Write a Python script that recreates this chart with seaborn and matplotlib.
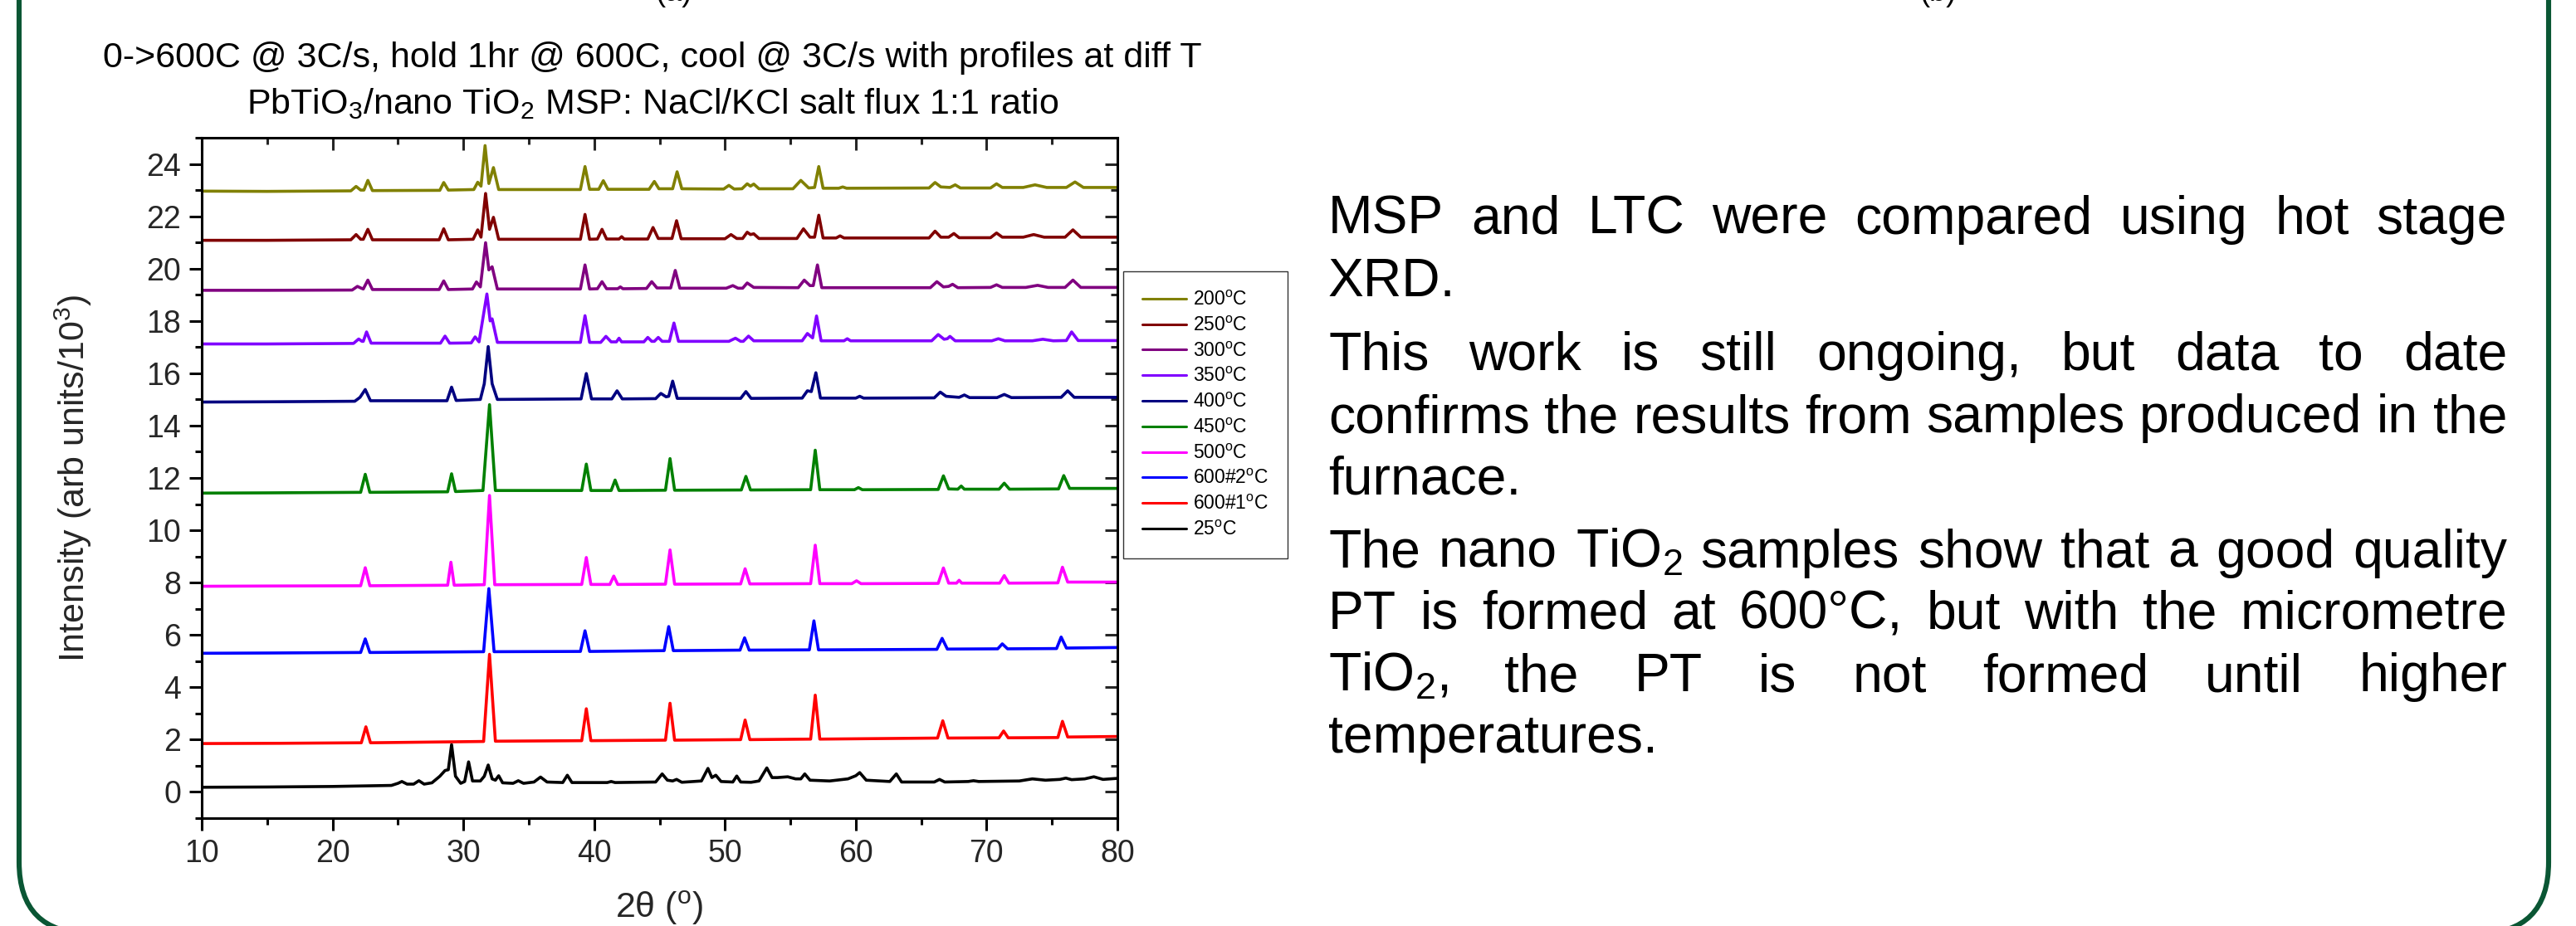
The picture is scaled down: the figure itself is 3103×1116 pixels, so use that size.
import matplotlib
matplotlib.use("Agg")
import numpy as np
import pandas as pd
import matplotlib.pyplot as plt
import seaborn as sns
from matplotlib.lines import Line2D
from matplotlib.patches import FancyBboxPatch
from matplotlib.ticker import MultipleLocator

# ---------------- data (2theta, intensity / 10^3) ----------------
s200 = [(10, 22.96), (15, 22.95), (21.4, 22.97), (21.8, 23.14), (22.15, 23.0), (22.4, 23.0), (22.7, 23.37),
        (23.05, 22.98), (28.2, 22.99), (28.5, 23.29), (28.85, 23.0), (30.8, 23.02), (31.1, 23.3), (31.35, 23.15),
        (31.66, 24.7), (31.95, 23.25), (32.3, 23.86), (32.7, 23.02), (38.95, 23.02), (39.3, 23.9), (39.65, 23.03),
        (40.35, 23.03), (40.7, 23.36), (41.05, 23.03), (44.2, 23.03), (44.6, 23.33), (44.95, 23.05), (46.0, 23.05),
        (46.34, 23.7), (46.7, 23.05), (49.9, 23.04), (50.3, 23.18), (50.7, 23.04), (51.3, 23.05), (51.7, 23.24),
        (51.95, 23.15), (52.2, 23.23), (52.6, 23.05), (55.2, 23.05), (55.8, 23.37), (56.4, 23.08), (56.85, 23.1),
        (57.17, 23.9), (57.5, 23.07), (58.7, 23.07), (59.0, 23.12), (59.3, 23.07), (65.6, 23.08), (66.06, 23.29),
        (66.5, 23.12), (67.2, 23.1), (67.6, 23.2), (68.0, 23.08), (70.3, 23.08), (70.76, 23.24), (71.2, 23.1),
        (72.8, 23.1), (73.7, 23.2), (74.6, 23.1), (76.1, 23.1), (76.76, 23.31), (77.4, 23.1), (80, 23.1)]

s250 = [(10, 21.08), (15, 21.08), (21.4, 21.1), (21.8, 21.3), (22.15, 21.12), (22.35, 21.12), (22.7, 21.5),
        (23.05, 21.1), (28.15, 21.1), (28.5, 21.52), (28.85, 21.1), (30.75, 21.12), (31.1, 21.48), (31.35, 21.2),
        (31.7, 22.87), (32.0, 21.5), (32.3, 21.96), (32.7, 21.12), (38.95, 21.12), (39.3, 22.07), (39.65, 21.12),
        (40.25, 21.13), (40.6, 21.5), (40.95, 21.13), (41.9, 21.13), (42.1, 21.22), (42.3, 21.13), (44.1, 21.13),
        (44.5, 21.57), (44.9, 21.15), (45.95, 21.15), (46.3, 21.83), (46.65, 21.14), (50.0, 21.14), (50.46, 21.3),
        (50.9, 21.15), (51.35, 21.15), (51.7, 21.39), (51.95, 21.3), (52.2, 21.33), (52.6, 21.15), (55.5, 21.15),
        (56.0, 21.52), (56.5, 21.2), (56.85, 21.2), (57.17, 22.04), (57.5, 21.17), (58.5, 21.17), (58.8, 21.25),
        (59.1, 21.17), (65.6, 21.17), (66.06, 21.43), (66.5, 21.2), (67.1, 21.2), (67.5, 21.34), (67.9, 21.18),
        (70.3, 21.18), (70.76, 21.36), (71.2, 21.2), (72.8, 21.2), (73.6, 21.3), (74.4, 21.2), (76.0, 21.2),
        (76.6, 21.48), (77.2, 21.2), (80, 21.2)]

s300 = [(10, 19.17), (15, 19.17), (21.5, 19.18), (21.9, 19.32), (22.2, 19.25), (22.35, 19.22), (22.7, 19.56),
        (23.05, 19.2), (28.15, 19.2), (28.5, 19.53), (28.85, 19.2), (30.7, 19.22), (31.0, 19.49), (31.3, 19.3),
        (31.7, 20.99), (31.95, 19.95), (32.2, 20.07), (32.6, 19.22), (38.95, 19.22), (39.3, 20.14), (39.65, 19.22),
        (40.25, 19.23), (40.6, 19.5), (40.95, 19.23), (41.8, 19.23), (42.0, 19.3), (42.2, 19.23), (44.0, 19.24),
        (44.4, 19.5), (44.8, 19.26), (45.85, 19.26), (46.2, 19.93), (46.55, 19.25), (50.1, 19.25), (50.6, 19.35),
        (51.0, 19.25), (51.35, 19.25), (51.7, 19.45), (52.2, 19.28), (55.6, 19.27), (56.06, 19.56), (56.5, 19.35),
        (56.75, 19.35), (57.07, 20.14), (57.4, 19.27), (65.7, 19.27), (66.2, 19.5), (66.7, 19.3), (67.1, 19.32),
        (67.4, 19.4), (67.8, 19.27), (70.3, 19.28), (70.76, 19.38), (71.2, 19.28), (73.0, 19.28), (73.9, 19.36),
        (74.7, 19.28), (76.0, 19.28), (76.6, 19.56), (77.2, 19.28), (80, 19.28)]

s350 = [(10, 17.12), (15, 17.12), (21.6, 17.14), (22.0, 17.31), (22.25, 17.22), (22.35, 17.22), (22.6, 17.58),
        (22.95, 17.15), (28.25, 17.15), (28.6, 17.42), (28.95, 17.15), (30.6, 17.16), (30.9, 17.39), (31.2, 17.2),
        (31.8, 19.03), (32.05, 18.0), (32.2, 18.08), (32.6, 17.18), (38.95, 17.18), (39.3, 18.2), (39.65, 17.18),
        (40.5, 17.18), (40.9, 17.41), (41.3, 17.2), (41.7, 17.2), (41.9, 17.34), (42.1, 17.2), (43.8, 17.2),
        (44.1, 17.37), (44.4, 17.22), (44.6, 17.22), (44.9, 17.37), (45.2, 17.22), (45.75, 17.22), (46.1, 17.92),
        (46.45, 17.22), (50.3, 17.22), (50.8, 17.34), (51.2, 17.22), (51.4, 17.22), (51.8, 17.42), (52.2, 17.24),
        (55.9, 17.24), (56.3, 17.52), (56.7, 17.35), (57.0, 18.19), (57.35, 17.24), (59.1, 17.24), (59.35, 17.32),
        (59.6, 17.24), (65.8, 17.24), (66.3, 17.48), (66.75, 17.3), (67.0, 17.32), (67.2, 17.41), (67.6, 17.24),
        (70.4, 17.24), (70.9, 17.32), (71.4, 17.24), (73.5, 17.24), (74.3, 17.3), (75.1, 17.24), (76.1, 17.25),
        (76.5, 17.58), (77.0, 17.25), (80, 17.25)]

s400 = [(10, 14.9), (15, 14.91), (21.7, 14.93), (22.1, 15.08), (22.5, 15.38), (22.9, 14.95), (28.75, 14.95),
        (29.1, 15.47), (29.45, 14.96), (31.3, 15.0), (31.6, 15.6), (31.9, 17.02), (32.2, 15.6), (32.6, 15.0),
        (39.0, 15.02), (39.4, 15.99), (39.8, 15.02), (41.35, 15.02), (41.75, 15.33), (42.15, 15.02), (44.7, 15.03),
        (45.1, 15.23), (45.5, 15.1), (45.7, 15.12), (46.0, 15.7), (46.35, 15.04), (51.2, 15.04), (51.6, 15.3),
        (52.0, 15.04), (55.9, 15.05), (56.3, 15.33), (56.6, 15.3), (56.95, 16.02), (57.3, 15.05), (60.0, 15.05),
        (60.3, 15.12), (60.6, 15.05), (66.0, 15.06), (66.46, 15.28), (66.9, 15.12), (67.9, 15.08), (68.3, 15.17),
        (68.7, 15.07), (70.8, 15.07), (71.35, 15.19), (71.9, 15.07), (75.7, 15.08), (76.2, 15.33), (76.7, 15.08),
        (80, 15.08)]

s450 = [(10, 11.42), (15, 11.43), (22.15, 11.45), (22.5, 12.14), (22.85, 11.45), (28.8, 11.47), (29.1, 12.16),
        (29.4, 11.48), (31.5, 11.52), (32.0, 14.8), (32.45, 11.52), (39.05, 11.52), (39.4, 12.53), (39.75, 11.52),
        (41.3, 11.52), (41.6, 11.92), (41.9, 11.52), (45.45, 11.53), (45.8, 12.74), (46.15, 11.53), (51.25, 11.54),
        (51.6, 12.06), (51.95, 11.54), (56.55, 11.55), (56.9, 13.06), (57.25, 11.55), (59.9, 11.55), (60.2, 11.63),
        (60.5, 11.55), (66.3, 11.56), (66.7, 12.08), (67.1, 11.58), (67.8, 11.57), (68.06, 11.69), (68.3, 11.57),
        (70.95, 11.57), (71.35, 11.8), (71.75, 11.57), (75.5, 11.58), (75.9, 12.09), (76.35, 11.6), (80, 11.6)]

s500 = [(10, 7.86), (15, 7.87), (22.15, 7.88), (22.5, 8.57), (22.85, 7.88), (28.8, 7.9), (29.05, 8.78),
        (29.3, 7.9), (31.6, 7.92), (32.0, 11.33), (32.4, 7.92), (39.05, 7.93), (39.4, 8.96), (39.75, 7.93),
        (41.2, 7.93), (41.5, 8.25), (41.8, 7.93), (45.45, 7.94), (45.8, 9.25), (46.15, 7.94), (51.2, 7.95),
        (51.54, 8.53), (51.9, 7.95), (56.55, 7.96), (56.9, 9.43), (57.25, 7.96), (59.7, 7.96), (60.06, 8.07),
        (60.4, 7.96), (66.3, 7.97), (66.7, 8.56), (67.1, 7.98), (67.7, 7.98), (67.9, 8.09), (68.1, 7.98),
        (71.0, 7.98), (71.35, 8.27), (71.7, 7.98), (75.45, 7.99), (75.8, 8.59), (76.2, 8.02), (80, 8.02)]

s600_2 = [(10, 5.3), (15, 5.31), (22.15, 5.33), (22.5, 5.85), (22.85, 5.33), (31.55, 5.36), (31.95, 7.77),
          (32.35, 5.36), (38.95, 5.37), (39.3, 6.16), (39.65, 5.37), (45.35, 5.4), (45.7, 6.32), (46.05, 5.4),
          (51.15, 5.42), (51.5, 5.89), (51.85, 5.42), (56.45, 5.43), (56.8, 6.54), (57.15, 5.43), (66.2, 5.45),
          (66.6, 5.87), (67.0, 5.46), (70.85, 5.47), (71.2, 5.66), (71.6, 5.47), (75.35, 5.48), (75.7, 5.92),
          (76.1, 5.5), (80, 5.52)]

s600_1 = [(10, 1.85), (16, 1.86), (22.2, 1.88), (22.55, 2.49), (22.9, 1.88), (31.55, 1.93), (32.0, 5.26),
          (32.45, 1.94), (39.05, 1.96), (39.4, 3.18), (39.75, 1.96), (45.45, 1.98), (45.8, 3.39), (46.15, 1.98),
          (51.2, 2.0), (51.54, 2.75), (51.9, 2.0), (56.55, 2.02), (56.9, 3.70), (57.25, 2.02), (66.25, 2.06),
          (66.65, 2.72), (67.05, 2.06), (70.95, 2.07), (71.3, 2.33), (71.65, 2.07), (75.45, 2.08), (75.8, 2.70),
          (76.2, 2.1), (80, 2.12)]

s25 = [(10, 0.18), (15, 0.19), (20, 0.21), (24.5, 0.25), (25.0, 0.33), (25.3, 0.40), (25.7, 0.30), (26.2, 0.30),
       (26.6, 0.43), (27.0, 0.30), (27.6, 0.35), (28.2, 0.60), (28.6, 0.82), (28.85, 0.85), (29.1, 1.81),
       (29.4, 0.60), (29.8, 0.33), (30.1, 0.40), (30.4, 1.15), (30.7, 0.42), (31.3, 0.42), (31.6, 0.60),
       (31.9, 1.03), (32.2, 0.50), (32.45, 0.45), (32.7, 0.62), (33.0, 0.35), (33.8, 0.33), (34.2, 0.43),
       (34.6, 0.33), (35.4, 0.38), (35.9, 0.57), (36.4, 0.38), (37.6, 0.36), (37.95, 0.64), (38.3, 0.36),
       (41.0, 0.36), (41.3, 0.40), (41.6, 0.36), (44.7, 0.38), (45.2, 0.69), (45.6, 0.45), (46.0, 0.42),
       (46.3, 0.48), (46.7, 0.37), (48.2, 0.42), (48.7, 0.90), (49.0, 0.55), (49.3, 0.64), (49.7, 0.40),
       (50.6, 0.38), (50.9, 0.61), (51.2, 0.38), (52.0, 0.37), (52.6, 0.42), (53.2, 0.92), (53.6, 0.55),
       (54.0, 0.55), (54.8, 0.58), (55.4, 0.50), (55.8, 0.50), (56.1, 0.69), (56.5, 0.45), (58.0, 0.42),
       (59.4, 0.50), (60.0, 0.62), (60.3, 0.74), (60.8, 0.45), (62.6, 0.40), (63.1, 0.69), (63.5, 0.38),
       (66.0, 0.38), (66.4, 0.48), (66.8, 0.38), (68.6, 0.40), (69.0, 0.43), (69.4, 0.40), (72.5, 0.42),
       (73.5, 0.50), (74.5, 0.45), (75.6, 0.48), (76.06, 0.53), (76.5, 0.47), (77.5, 0.50), (78.2, 0.58),
       (78.9, 0.48), (80, 0.52)]

# legend order (top to bottom)
sample_labels = ["200", "250", "300", "350", "400", "450", "500", "600#2", "600#1", "25"]
sample_data = [s200, s250, s300, s350, s400, s450, s500, s600_2, s600_1, s25]
sample_colors = ["#808000", "#800000", "#800080", "#8000FF", "#000080",
                 "#008000", "#FF00FF", "#0000FF", "#FF0000", "#000000"]

x_ticks = [10, 20, 30, 40, 50, 60, 70, 80]
y_ticks = [0, 2, 4, 6, 8, 10, 12, 14, 16, 18, 20, 22, 24]

title_lines = ["0->600C @ 3C/s, hold 1hr @ 600C, cool @ 3C/s with profiles at diff T",
               r"PbTiO$_3$/nano TiO$_2$ MSP: NaCl/KCl salt flux 1:1 ratio"]

paragraphs = [
    ["MSP and LTC were compared using hot stage", "XRD."],
    ["This work is still ongoing, but data to date",
     "confirms the results from samples produced in the", "furnace."],
    [r"The nano TiO$_2$ samples show that a good quality",
     "PT is formed at 600°C, but with the micrometre",
     r"TiO$_2$, the PT is not formed until higher", "temperatures."],
]

# cut-off panel labels of the row above (only their lower parts are visible)
top_fragments = [("(a)", 812), ("(b)", 2335)]

# ---------------- style ----------------
sns.set_style("ticks")
plt.rcParams["font.family"] = ["Liberation Sans", "DejaVu Sans"]
plt.rcParams["mathtext.fontset"] = "custom"
plt.rcParams["mathtext.rm"] = "Liberation Sans"
plt.rcParams["mathtext.it"] = "Liberation Sans:italic"
plt.rcParams["mathtext.bf"] = "Liberation Sans:bold"
plt.rcParams["text.color"] = "black"

W, H = 3103, 1116
fig = plt.figure(figsize=(W / 100, H / 100), dpi=100)
fig.patch.set_facecolor("white")

L, R, T, B = 243, 1346, 166, 986
ax = fig.add_axes([L / W, 1 - B / H, (R - L) / W, (B - T) / H])

rows = []
for lab, pts in zip(sample_labels, sample_data):
    for x, y in pts:
        rows.append((lab, x, y))
df = pd.DataFrame(rows, columns=["sample", "two_theta", "intensity"])
plot_order = sample_labels[::-1]
pal = dict(zip(sample_labels, sample_colors))
sns.lineplot(data=df, x="two_theta", y="intensity", hue="sample", hue_order=plot_order,
             palette=pal, estimator=None, sort=False, linewidth=2.6, legend=False, ax=ax)

ax.set_xlim(10, 80)
ax.set_ylim(-1, 25)
ax.set_xticks(x_ticks)
ax.set_yticks(y_ticks)
ax.xaxis.set_minor_locator(MultipleLocator(5))
ax.yaxis.set_minor_locator(MultipleLocator(1))
for sp in ax.spines.values():
    sp.set_visible(True)
    sp.set_linewidth(2.2)
    sp.set_color("black")
ax.tick_params(which="both", direction="out", top=False, right=False, width=2.2, color="black",
               labelsize=27, pad=7)
ax.tick_params(which="major", length=11)
ax.tick_params(which="minor", length=6)

secx = ax.secondary_xaxis("top")
secx.set_xticks(x_ticks)
secx.xaxis.set_minor_locator(MultipleLocator(5))
secx.tick_params(which="both", direction="in", labeltop=False, width=2.2)
secx.tick_params(which="major", length=11)
secx.tick_params(which="minor", length=6)
secx.spines["top"].set_visible(False)

secy = ax.secondary_yaxis("right")
secy.set_yticks(y_ticks)
secy.yaxis.set_minor_locator(MultipleLocator(1))
secy.tick_params(which="both", direction="in", labelright=False, width=2.2)
secy.tick_params(which="major", length=11)
secy.tick_params(which="minor", length=6)
secy.spines["right"].set_visible(False)

ax.set_xlabel(r"2θ ($^{\rm o}$)", fontsize=31)
ax.set_ylabel(r"Intensity (arb units/10$^3$)", fontsize=31)
ax.xaxis.set_label_coords(0.5, (B - 1094) / (B - T))
ax.xaxis.label.set_va("center")
ax.yaxis.set_label_coords((88 - L) / (R - L), 0.5)
ax.yaxis.label.set_va("center")

# legend
handles = [Line2D([0], [0], color=c, lw=2.2) for c in sample_colors]
labels = [s + r"$^{\rm o}$C" for s in sample_labels]
leg = fig.legend(handles, labels, loc="upper left", bbox_to_anchor=(1353 / W, 1 - 327 / H),
                 frameon=True, fancybox=False, shadow=False, fontsize=16.5, handlelength=2.3,
                 handletextpad=0.35, labelspacing=0.34, borderpad=1.0, borderaxespad=0.0)
leg.get_frame().set_edgecolor("black")
leg.get_frame().set_linewidth(1.0)

# ---------------- text ----------------
fig.canvas.draw()
rend = fig.canvas.get_renderer()


def tw(s, fs):
    t = fig.text(0, 0, s, fontsize=fs)
    w = t.get_window_extent(renderer=rend).width
    t.remove()
    return w


# title, fitted to its width in the picture
tfs = 26 * (1322 / tw(title_lines[0], 26))
cx = 786 / W
fig.text(cx, 1 - 81 / H, title_lines[0], fontsize=tfs, ha="center", va="baseline")
fig.text(cx, 1 - 137 / H, title_lines[1], fontsize=tfs, ha="center", va="baseline")

# right text block, justified
XL, XR = 1600, 3020
bfs = 30 * ((XR - XL) / tw("confirms the results from samples produced in the", 30))
baselines = [282, 357, 446, 521, 595, 684, 758, 833, 907]
k = 0
for para in paragraphs:
    for i, line in enumerate(para):
        yb = 1 - baselines[k] / H
        k += 1
        if i == len(para) - 1:
            fig.text(XL / W, yb, line, fontsize=bfs, ha="left", va="baseline")
            continue
        words = line.split(" ")
        widths = [tw(w_, bfs) for w_ in words]
        gap = ((XR - XL) - sum(widths)) / (len(words) - 1)
        x = XL
        for w_, wd in zip(words, widths):
            fig.text(x / W, yb, w_, fontsize=bfs, ha="left", va="baseline")
            x += wd + gap

# fragments at the very top edge (cut off in the reference as well)
for s, xc in top_fragments:
    fig.text(xc / W, 1 - 1 / H, s, fontsize=26, ha="center", va="baseline")

# rounded green panel border (extends beyond the top of the picture)
border = FancyBboxPatch((23 / 100, -9 / 100), (3070 - 23) / 100, (H + 200) / 100,
                        boxstyle="round,pad=0,rounding_size=0.86", transform=fig.dpi_scale_trans,
                        facecolor="none", edgecolor="#0A5634", linewidth=4.4, clip_on=False)
fig.add_artist(border)

fig.savefig("out.png", dpi=100, facecolor="white")
